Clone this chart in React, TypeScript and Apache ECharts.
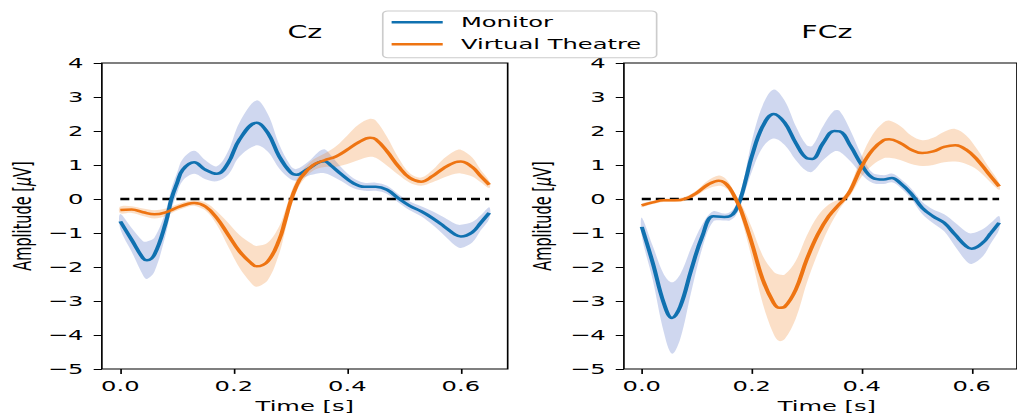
import React, { useEffect, useRef } from "react";
import * as echarts from "echarts";

// ---------- data ----------
const xTicks = [0, 0.2, 0.4, 0.6];
const yMin = -5;
const yMax = 4;

// Cz, Monitor
const czMonTime = [0, 0.02, 0.04, 0.047, 0.06, 0.08, 0.09, 0.1, 0.11, 0.13, 0.15, 0.17, 0.19, 0.21, 0.24, 0.26, 0.28, 0.3, 0.31, 0.33, 0.35, 0.36, 0.37, 0.39, 0.41, 0.43, 0.45, 0.47, 0.49, 0.51, 0.53, 0.55, 0.57, 0.59, 0.6, 0.62, 0.635, 0.65];
const czMonMean = [-0.66, -1.2, -1.74, -1.8, -1.64, -0.7, 0.0, 0.47, 0.86, 1.08, 0.86, 0.74, 1.06, 1.75, 2.24, 1.94, 1.25, 0.78, 0.71, 0.88, 1.08, 1.11, 1.0, 0.72, 0.47, 0.36, 0.36, 0.27, 0.02, -0.2, -0.36, -0.56, -0.8, -1.05, -1.1, -0.98, -0.7, -0.41];
const czMonSd = [0.22, 0.35, 0.5, 0.55, 0.5, 0.35, 0.3, 0.3, 0.32, 0.34, 0.28, 0.22, 0.35, 0.5, 0.66, 0.55, 0.35, 0.2, 0.17, 0.2, 0.32, 0.35, 0.3, 0.2, 0.15, 0.12, 0.12, 0.12, 0.12, 0.13, 0.15, 0.2, 0.26, 0.32, 0.34, 0.3, 0.22, 0.17];

// Cz, Virtual Theatre
const czVtTime = [0, 0.02, 0.04, 0.06, 0.08, 0.1, 0.12, 0.13, 0.15, 0.17, 0.19, 0.21, 0.23, 0.24, 0.26, 0.28, 0.29, 0.3, 0.31, 0.32, 0.34, 0.36, 0.38, 0.4, 0.42, 0.44, 0.45, 0.47, 0.49, 0.51, 0.53, 0.55, 0.57, 0.59, 0.6, 0.62, 0.635, 0.65];
const czVtMean = [-0.32, -0.31, -0.39, -0.45, -0.39, -0.25, -0.14, -0.12, -0.22, -0.56, -1.05, -1.54, -1.88, -1.98, -1.83, -1.2, -0.66, -0.07, 0.37, 0.67, 1.0, 1.14, 1.25, 1.45, 1.67, 1.8, 1.76, 1.4, 0.96, 0.62, 0.51, 0.67, 0.91, 1.08, 1.1, 0.94, 0.67, 0.42];
const czVtSd = [0.1, 0.1, 0.11, 0.12, 0.11, 0.09, 0.08, 0.08, 0.12, 0.2, 0.35, 0.48, 0.58, 0.6, 0.55, 0.4, 0.3, 0.22, 0.18, 0.16, 0.16, 0.2, 0.3, 0.42, 0.52, 0.56, 0.55, 0.42, 0.25, 0.14, 0.12, 0.18, 0.28, 0.34, 0.35, 0.28, 0.18, 0.1];

// FCz, Monitor
const fczMonTime = [0, 0.02, 0.04, 0.055, 0.07, 0.09, 0.11, 0.13, 0.15, 0.16, 0.17, 0.18, 0.19, 0.2, 0.22, 0.24, 0.26, 0.28, 0.3, 0.31, 0.33, 0.35, 0.36, 0.38, 0.4, 0.42, 0.44, 0.455, 0.47, 0.49, 0.51, 0.53, 0.55, 0.57, 0.59, 0.6, 0.62, 0.635, 0.65];
const fczMonMean = [-0.82, -1.88, -3.06, -3.5, -3.16, -2.08, -1.1, -0.51, -0.53, -0.51, -0.36, 0.03, 0.62, 1.25, 2.14, 2.5, 2.24, 1.65, 1.2, 1.18, 1.65, 2.0, 1.99, 1.55, 1.0, 0.62, 0.57, 0.62, 0.47, 0.16, -0.26, -0.51, -0.7, -1.05, -1.39, -1.46, -1.29, -1.0, -0.7];
const fczMonSd = [0.27, 0.5, 0.85, 1.05, 0.95, 0.65, 0.35, 0.15, 0.1, 0.12, 0.15, 0.2, 0.3, 0.45, 0.62, 0.72, 0.65, 0.5, 0.38, 0.38, 0.5, 0.6, 0.6, 0.45, 0.28, 0.15, 0.13, 0.13, 0.13, 0.15, 0.18, 0.2, 0.25, 0.35, 0.43, 0.45, 0.4, 0.3, 0.2];

// FCz, Virtual Theatre
const fczVtTime = [0, 0.02, 0.04, 0.06, 0.08, 0.1, 0.12, 0.14, 0.15, 0.16, 0.17, 0.18, 0.2, 0.22, 0.24, 0.25, 0.26, 0.28, 0.3, 0.32, 0.34, 0.36, 0.37, 0.38, 0.4, 0.42, 0.44, 0.45, 0.47, 0.49, 0.51, 0.53, 0.55, 0.57, 0.59, 0.61, 0.63, 0.65];
const fczVtMean = [-0.19, -0.1, -0.04, -0.04, 0.01, 0.18, 0.42, 0.54, 0.49, 0.32, 0.03, -0.31, -1.29, -2.37, -3.06, -3.2, -3.17, -2.67, -1.78, -1.05, -0.51, -0.14, 0.03, 0.27, 0.96, 1.45, 1.73, 1.76, 1.65, 1.45, 1.35, 1.4, 1.53, 1.58, 1.45, 1.16, 0.76, 0.37];
const fczVtSd = [0.05, 0.05, 0.05, 0.05, 0.06, 0.08, 0.12, 0.15, 0.14, 0.12, 0.12, 0.2, 0.45, 0.7, 0.92, 0.98, 0.95, 0.85, 0.7, 0.55, 0.35, 0.15, 0.1, 0.15, 0.3, 0.45, 0.53, 0.55, 0.5, 0.42, 0.38, 0.4, 0.45, 0.48, 0.42, 0.3, 0.2, 0.1];

const zeroLine = [0, 0.65];
const panelTitles = ["Cz", "FCz"];
const legendNames = ["Monitor", "Virtual Theatre"];

// ---------- styling ----------
const S = 1.67; // horizontal stretch of the figure
const W = 1017 / S;
const H = 415;
const FONT = "DejaVu Sans";
const FS = 14.5;
const LW = 2.5;
const BLUE = "#1071b0";
const ORANGE = "#ee7412";
const BLUE_BAND = "rgba(64,96,192,0.25)";
const ORANGE_BAND = "rgba(240,128,32,0.25)";
const GRIDS = [
  { left: 61, top: 63, width: 243, height: 306 },
  { left: 373.6, top: 63, width: 243, height: 306 },
];

function band(gi: number, time: number[], mean: number[], sd: number[], fill: string, z: number) {
  return {
    type: "custom",
    xAxisIndex: gi,
    yAxisIndex: gi,
    silent: true,
    z,
    data: time.map((t, i) => [t, mean[i] - sd[i], mean[i] + sd[i]]),
    encode: { x: 0, y: [1, 2] },
    renderItem: (params: any, api: any) => {
      if (params.dataIndex !== 0) return { type: "group", children: [] };
      const up = time.map((t, i) => api.coord([t, mean[i] + sd[i]]));
      const lo = time.map((t, i) => api.coord([t, mean[i] - sd[i]])).reverse();
      return {
        type: "polygon",
        shape: { points: up.concat(lo), smooth: 0.35 },
        style: { fill, stroke: "none" },
      };
    },
  };
}

function meanLine(gi: number, time: number[], mean: number[], color: string, name: string) {
  return {
    type: "line", xAxisIndex: gi, yAxisIndex: gi, symbol: "none", smooth: 0.4, silent: true, name,
    data: time.map((t, i) => [t, mean[i]]),
    lineStyle: { color, width: LW }, itemStyle: { color }, z: 4,
  };
}

export default function App() {
  const ref = useRef<HTMLDivElement>(null);
  useEffect(() => {
    if (!ref.current) return;
    const chart = echarts.init(ref.current, null, { renderer: "svg", width: W, height: H });

    const zero = (gi: number) => ({
      type: "line", xAxisIndex: gi, yAxisIndex: gi, symbol: "none", silent: true, name: "zero" + gi,
      data: zeroLine.map((t) => [t, 0]),
      lineStyle: { color: "#000", width: LW, type: [5.4, 3] }, z: 3,
    });

    const xAxis = GRIDS.map((_, gi) => ({
      type: "value", gridIndex: gi, min: -0.0325, max: 0.6825,
      splitLine: { show: false }, axisLine: { show: false, onZero: false },
      axisTick: { show: true, length: 4.9, customValues: xTicks, lineStyle: { color: "#000", width: 1 } },
      axisLabel: { customValues: xTicks, formatter: (v: number) => v.toFixed(1), color: "#000", fontFamily: FONT, fontSize: FS, margin: 9 },
    }));
    const yAxis = GRIDS.map((_, gi) => ({
      type: "value", gridIndex: gi, min: yMin, max: yMax, interval: 1,
      splitLine: { show: false }, axisLine: { show: false, onZero: false },
      axisTick: { show: true, length: 4.9, lineStyle: { color: "#000", width: 1 } },
      axisLabel: { formatter: (v: number) => (v < 0 ? "\u2212" + Math.abs(v) : String(v)), color: "#000", fontFamily: FONT, fontSize: FS, margin: 11 },
    }));

    const textStyle = (extra: any) => ({ fill: "#000", fontFamily: FONT, fontSize: FS, ...extra });
    const graphic: any[] = [];
    GRIDS.forEach((g, gi) => {
      const cx = g.left + g.width / 2;
      graphic.push({ type: "text", x: cx, y: 31.7, style: textStyle({ text: panelTitles[gi], fontSize: 17, align: "center", verticalAlign: "middle" }) });
      graphic.push({ type: "text", x: cx, y: 405.5, style: textStyle({ text: "Time [s]", align: "center", verticalAlign: "middle" }) });
      graphic.push({
        type: "text", x: gi === 0 ? 13.5 : 325, y: g.top + g.height / 2, rotation: Math.PI / 2,
        style: textStyle({ text: "Amplitude [{i|\u03bc}V]", align: "center", verticalAlign: "middle", rich: { i: { fontStyle: "italic", fontFamily: FONT, fontSize: FS, fill: "#000" } } }),
      });
    });
    // legend
    graphic.push({ type: "rect", shape: { x: 229.2, y: 11, width: 164, height: 46.7, r: 3 }, style: { fill: "rgba(255,255,255,0.8)", stroke: "#cccccc", lineWidth: 1 }, z: 10 });
    [BLUE, ORANGE].forEach((col, i) => {
      const y = i === 0 ? 22.3 : 44.3;
      graphic.push({ type: "line", shape: { x1: 234.5, y1: y, x2: 265.1, y2: y }, style: { stroke: col, lineWidth: LW }, z: 11 });
      graphic.push({ type: "text", x: 276, y, style: textStyle({ text: legendNames[i], align: "left", verticalAlign: "middle" }), z: 11 });
    });

    chart.setOption({
      animation: false,
      backgroundColor: "#fff",
      grid: GRIDS.map((g) => ({ ...g, show: true, borderColor: "#000", borderWidth: 1, backgroundColor: "transparent", containLabel: false })),
      xAxis,
      yAxis,
      series: [
        band(0, czMonTime, czMonMean, czMonSd, BLUE_BAND, 1),
        band(0, czVtTime, czVtMean, czVtSd, ORANGE_BAND, 2),
        band(1, fczMonTime, fczMonMean, fczMonSd, BLUE_BAND, 1),
        band(1, fczVtTime, fczVtMean, fczVtSd, ORANGE_BAND, 2),
        zero(0), zero(1),
        meanLine(0, czMonTime, czMonMean, BLUE, legendNames[0]),
        meanLine(0, czVtTime, czVtMean, ORANGE, legendNames[1]),
        meanLine(1, fczMonTime, fczMonMean, BLUE, legendNames[0]),
        meanLine(1, fczVtTime, fczVtMean, ORANGE, legendNames[1]),
      ],
      graphic,
    });
    return () => chart.dispose();
  }, []);

  return (
    <div style={{ position: "absolute", left: 0, top: 0, width: 1017, height: H, overflow: "hidden", background: "#fff" }}>
      <div ref={ref} style={{ width: W, height: H, transform: `scaleX(${S})`, transformOrigin: "0 0" }} />
    </div>
  );
}
